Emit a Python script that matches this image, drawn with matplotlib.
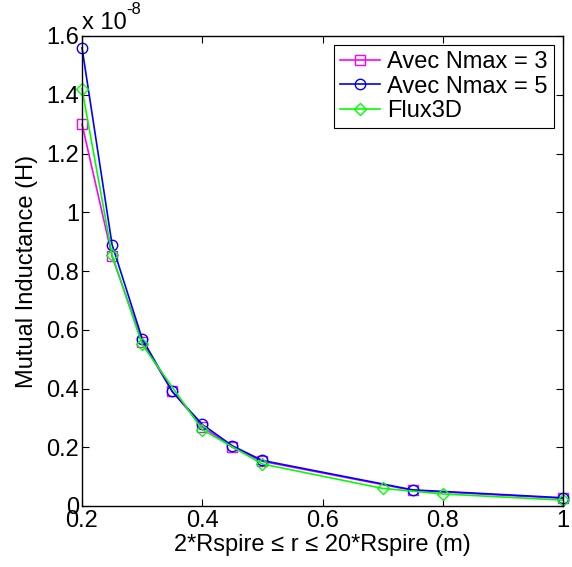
import matplotlib
matplotlib.use('Agg')
import matplotlib.pyplot as plt

plt.rcParams['font.family'] = ['Liberation Sans', 'DejaVu Sans']

# values in units of 1e-8 H
r_n = [0.2, 0.25, 0.3, 0.35, 0.4, 0.45, 0.5, 0.75, 1.0]
m_n3 = [1.30, 0.85, 0.56, 0.39, 0.27, 0.20, 0.152, 0.053, 0.026]
m_n5 = [1.56, 0.89, 0.57, 0.39, 0.278, 0.205, 0.155, 0.055, 0.028]
r_flux = [0.2, 0.25, 0.3, 0.4, 0.5, 0.7, 0.8, 1.0]
m_flux = [1.42, 0.855, 0.55, 0.26, 0.143, 0.06, 0.041, 0.02]

fs = 17

fig = plt.figure(figsize=(5.72, 5.67), dpi=100)
ax = fig.add_axes([82/572, 61/567, 481/572, 470/567])

ax.plot(r_n, m_n3, '-s', color='#ff00ff', mfc='none', ms=7, lw=1.2, clip_on=False, label='Avec Nmax = 3')
ax.plot(r_n, m_n5, '-o', color='#0000ff', mfc='none', ms=7.5, lw=1.2, clip_on=False, label='Avec Nmax = 5')
ax.plot(r_flux, m_flux, '-D', color='#00ff00', mfc='none', ms=6, lw=1.2, clip_on=False, label='Flux3D')

ax.set_xlim(0.2, 1.0)
ax.set_ylim(0, 1.6)
ax.set_xticks([0.2, 0.4, 0.6, 0.8, 1.0])
ax.set_yticks([0, 0.2, 0.4, 0.6, 0.8, 1.0, 1.2, 1.4, 1.6])
ax.set_xticklabels(['0.2', '0.4', '0.6', '0.8', '1'])
ax.set_yticklabels(['0', '0.2', '0.4', '0.6', '0.8', '1', '1.2', '1.4', '1.6'])
ax.tick_params(direction='in', top=True, right=True, labelsize=fs, length=5, width=0.8)
ax.tick_params(axis='y', pad=2)
ax.tick_params(axis='x', pad=3)
for s in ax.spines.values():
    s.set_linewidth(1.0)

ax.set_xlabel('2*Rspire \u2264 r \u2264 20*Rspire (m)', fontsize=fs, labelpad=1)
ax.set_ylabel('Mutual Inductance (H)', fontsize=fs, labelpad=6)
ax.text(0.0, 1.005, 'x 10', transform=ax.transAxes, fontsize=fs, ha='left', va='bottom')
ax.text(0.093, 1.04, '-8', transform=ax.transAxes, fontsize=12, ha='left', va='bottom')

leg = ax.legend(loc='upper right', fontsize=fs, fancybox=False, edgecolor='black',
                framealpha=1, borderaxespad=0.4, handlelength=1.7, handletextpad=0.3,
                labelspacing=0.1, borderpad=0.25)
leg.set_zorder(5)
leg.get_frame().set_linewidth(0.8)

fig.savefig('out.png', dpi=100)
